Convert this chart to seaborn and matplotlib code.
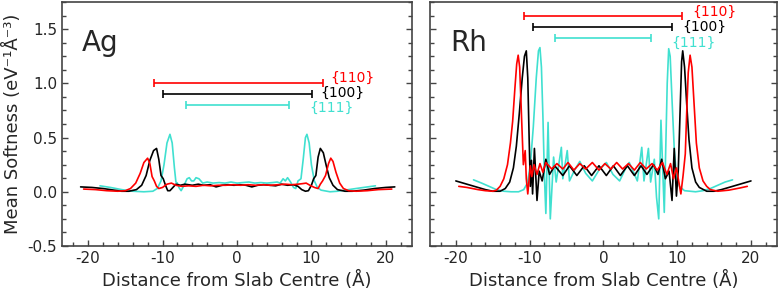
import matplotlib
matplotlib.use('Agg')
import matplotlib.pyplot as plt
from matplotlib.ticker import MultipleLocator
import seaborn as sns

# ---- Ag curves ----
ag100_x = [-21.0, -19.5, -18.0, -16.5, -15.5, -14.5, -13.5, -12.8, -12.2, -11.7, -11.2, -10.8, -10.5, -10.2,
           -9.9, -9.6, -9.3, -9.0, -8.6, -8.2, -7.6, -7.0, -6.0, -5.2, -4.5, -3.6, -2.8, -2.0, -1.2, -0.4,
           0.4, 1.2, 2.0, 2.8, 3.6, 4.4, 5.2, 6.0, 6.8, 7.6, 8.2, 8.7, 9.2, 9.6, 10.0, 10.3, 10.6, 10.9,
           11.2, 11.6, 12.0, 12.4, 12.9, 13.5, 14.5, 15.5, 17.0, 18.5, 20.0, 21.2]
ag100_y = [0.045, 0.04, 0.03, 0.015, 0.005, 0.005, 0.02, 0.06, 0.15, 0.29, 0.38, 0.40, 0.30, 0.15,
           0.12, 0.06, 0.01, 0.01, 0.04, 0.07, 0.06, 0.07, 0.06, 0.07, 0.06, 0.065, 0.045, 0.06, 0.065, 0.06,
           0.065, 0.06, 0.045, 0.06, 0.065, 0.06, 0.055, 0.07, 0.06, 0.065, 0.05, 0.02, 0.005, 0.01, 0.06, 0.12, 0.15, 0.32,
           0.40, 0.36, 0.24, 0.13, 0.06, 0.02, 0.005, 0.005, 0.015, 0.03, 0.04, 0.045]

ag110_x = [-20.6, -19.0, -17.5, -16.0, -15.0, -14.3, -13.6, -13.0, -12.5, -12.0, -11.7, -11.4, -11.1, -10.8,
           -10.5, -10.0, -9.4, -8.8, -8.2, -7.4, -6.5, -5.5, -4.5, -3.5, -2.5, -1.5, -0.5, 0.5, 1.5, 2.5,
           3.5, 4.5, 5.5, 6.5, 7.4, 8.2, 8.8, 9.3, 9.8, 10.4, 10.9, 11.2, 11.5, 11.9, 12.3, 12.6, 12.9,
           13.3, 13.8, 14.3, 15.0, 16.0, 17.5, 19.0, 20.8]
ag110_y = [0.025, 0.02, 0.01, 0.005, 0.01, 0.03, 0.08, 0.17, 0.27, 0.31, 0.26, 0.14, 0.10, 0.05,
           0.03, 0.04, 0.07, 0.08, 0.06, 0.05, 0.055, 0.05, 0.06, 0.055, 0.06, 0.06, 0.065, 0.06, 0.065, 0.06,
           0.065, 0.06, 0.065, 0.07, 0.065, 0.07, 0.075, 0.08, 0.06, 0.04, 0.03, 0.07, 0.10, 0.15, 0.26, 0.31, 0.28,
           0.18, 0.08, 0.03, 0.01, 0.005, 0.01, 0.02, 0.025]

ag111_x = [-18.4, -17.0, -15.5, -14.0, -12.5, -11.3, -10.7, -10.2, -9.8, -9.4, -9.0, -8.7, -8.4, -8.2,
           -8.0, -7.8, -7.5, -7.1, -6.7, -6.4, -6.1, -5.8, -5.5, -5.1, -4.6, -4.0, -3.2, -2.4, -1.6, -0.8,
           0.0, 0.8, 1.6, 2.4, 3.2, 4.0, 4.8, 5.4, 5.8, 6.2, 6.5, 6.8, 7.2, 7.6, 7.9, 8.2, 8.6, 8.9,
           9.2, 9.4, 9.7, 10.0, 10.4, 10.8, 11.3, 12.5, 13.5, 15.0, 16.5, 18.6]
ag111_y = [0.055, 0.04, 0.02, 0.005, 0.0, 0.005, 0.03, 0.10, 0.25, 0.45, 0.53, 0.45, 0.22, 0.09,
           0.08, 0.04, 0.01, 0.06, 0.12, 0.13, 0.10, 0.10, 0.13, 0.12, 0.08, 0.09, 0.08, 0.085, 0.08, 0.09,
           0.08, 0.085, 0.09, 0.08, 0.085, 0.08, 0.085, 0.09, 0.08, 0.12, 0.10, 0.13, 0.09, 0.04, 0.03, 0.10, 0.12, 0.30,
           0.50, 0.53, 0.45, 0.25, 0.10, 0.04, 0.015, 0.0, 0.005, 0.02, 0.035, 0.055]

# ---- Rh curves ----
rh100_x = [-20.0, -19.0, -18.0, -17.0, -16.0, -15.0, -14.0, -13.3, -12.7, -12.2, -11.8, -11.4, -11.0, -10.7,
           -10.45, -10.25, -10.05, -9.9, -9.75, -9.6, -9.35, -9.0, -8.7, -8.3, -7.8, -7.3, -6.6, -5.5, -4.6,
           -3.6, -2.6, -1.6, -0.6, 0.4, 1.35, 2.3, 3.25, 4.2, 5.1, 5.9, 6.8, 7.4, 7.9, 8.4, 8.9, 9.3, 9.6,
           9.9, 10.15, 10.4, 10.6, 10.75, 11.0, 11.3, 11.6, 12.0, 12.5, 13.0, 14.0, 15.0, 16.0, 17.0, 18.0,
           19.0, 20.0]
rh100_y = [0.10, 0.08, 0.06, 0.04, 0.02, 0.005, 0.005, 0.03, 0.09, 0.22, 0.42, 0.72, 1.05, 1.25,
           1.30, 1.05, 0.45, 0.05, 0.29, -0.02, 0.40, -0.08, 0.19, 0.10, 0.30, 0.16, 0.24, 0.15, 0.24,
           0.15, 0.24, 0.15, 0.24, 0.15, 0.24, 0.15, 0.24, 0.15, 0.24, 0.16, 0.25, 0.16, 0.30, 0.12, 0.19, -0.08, 0.40,
           -0.04, 0.20, 0.75, 1.20, 1.30, 1.15, 0.80, 0.48, 0.22, 0.09, 0.04, 0.005, 0.005, 0.02, 0.04, 0.06,
           0.08, 0.10]

rh110_x = [-19.6, -18.5, -17.0, -16.0, -15.0, -14.5, -14.0, -13.5, -13.0, -12.6, -12.3, -12.0, -11.75, -11.55,
           -11.35, -11.1, -10.85, -10.6, -10.45, -10.25, -9.9, -9.7, -9.4, -9.0, -8.6, -8.2, -7.8, -7.0, -6.3,
           -5.5, -4.8, -4.0, -3.2, -2.4, -1.5, -0.6, 0.2, 1.0, 1.8, 2.6, 3.4, 4.2, 5.0, 5.8, 6.6, 7.3, 8.0,
           8.6, 9.1, 9.5, 9.9, 10.2, 10.5, 10.8, 11.1, 11.3, 11.5, 11.75, 12.0, 12.3, 12.6, 13.0, 13.5, 14.0,
           14.5, 15.5, 17.0, 18.5, 19.5]
rh110_y = [0.05, 0.04, 0.02, 0.01, 0.005, 0.015, 0.05, 0.12, 0.25, 0.45, 0.65, 0.95, 1.18, 1.26,
           1.15, 0.70, 0.25, 0.38, 0.12, -0.02, 0.24, 0.14, 0.25, 0.16, 0.26, 0.18, 0.27, 0.21, 0.26,
           0.21, 0.27, 0.20, 0.26, 0.21, 0.27, 0.20, 0.26, 0.21, 0.27, 0.21, 0.26, 0.20, 0.27, 0.21, 0.26, 0.20, 0.27,
           0.16, 0.26, 0.12, 0.22, 0.10, -0.02, 0.15, 0.35, 0.75, 1.10, 1.26, 1.15, 0.80, 0.45, 0.22, 0.10, 0.05,
           0.02, 0.005, 0.015, 0.035, 0.05]

rh111_x = [-17.6, -16.5, -15.5, -14.5, -13.5, -12.5, -11.5, -10.8, -10.3, -9.9, -9.5, -9.1, -8.8, -8.6,
           -8.4, -8.2, -8.0, -7.8, -7.5, -7.2, -6.75, -6.4, -5.7, -5.5, -4.9, -4.6, -3.9, -3.2, -2.4, -1.5,
           -0.6, 0.4, 1.3, 2.2, 2.9, 3.5, 4.1, 4.6, 5.2, 5.5, 6.1, 6.4, 6.9, 7.2, 7.5, 7.8, 8.25, 8.45,
           8.65, 8.85, 9.05, 9.3, 9.6, 9.9, 10.3, 11.0, 12.5, 13.5, 14.5, 15.5, 16.5, 17.5]
rh111_y = [0.11, 0.08, 0.05, 0.02, 0.005, 0.0, 0.0, 0.02, 0.08, 0.25, 0.60, 1.05, 1.30, 1.33,
           1.15, 0.70, 0.15, -0.20, 0.64, -0.25, 0.32, 0.09, 0.41, 0.12, 0.38, 0.10, 0.20, 0.28, 0.17, 0.10,
           0.20, 0.27, 0.16, 0.10, 0.20, 0.27, 0.18, 0.10, 0.41, 0.10, 0.40, 0.09, 0.30, -0.05, -0.25, 0.66, -0.19, 0.40,
           1.00, 1.32, 1.25, 0.85, 0.40, 0.15, 0.05, 0.01, 0.0, 0.01, 0.03, 0.06, 0.09, 0.11]

# ---- thickness brackets (start, end, height) and labels ----
facets = ['{110}', '{100}', '{111}']
colors = ['#ff0000', '#000000', '#40e0d0']
ag_start = [-11.2, -10.0, -6.9]
ag_end = [11.5, 10.1, 7.0]
ag_level = [1.00, 0.90, 0.80]
ag_label_xy = [(12.5, 1.05), (11.2, 0.91), (9.7, 0.77)]
rh_start = [-10.7, -9.6, -6.6]
rh_end = [10.6, 9.3, 6.5]
rh_level = [1.62, 1.52, 1.42]
rh_label_xy = [(12.1, 1.66), (10.7, 1.52), (9.2, 1.37)]

sns.set_style("ticks")
plt.rcParams['font.family'] = ['DejaVu Sans']
plt.rcParams['axes.unicode_minus'] = False

fig = plt.figure(figsize=(7.81, 2.96), dpi=100)
ax1 = fig.add_axes([0.0794, 0.169, 0.448, 0.824])
ax2 = fig.add_axes([0.5506, 0.169, 0.444, 0.824])

panels = [
    (ax1, 'Ag', [(ag110_x, ag110_y), (ag100_x, ag100_y), (ag111_x, ag111_y)],
     ag_start, ag_end, ag_level, ag_label_xy),
    (ax2, 'Rh', [(rh110_x, rh110_y), (rh100_x, rh100_y), (rh111_x, rh111_y)],
     rh_start, rh_end, rh_level, rh_label_xy),
]

for ax, metal, curves, starts, ends, levels, label_xy in panels:
    # cyan drawn first, red last on top
    for i in [2, 1, 0]:
        cx, cy = curves[i]
        sns.lineplot(x=cx, y=cy, color=colors[i], linewidth=1.2, ax=ax, estimator=None, sort=False)
    for i in range(3):
        mid = (starts[i] + ends[i]) / 2
        half = (ends[i] - starts[i]) / 2
        ax.errorbar(mid, levels[i], xerr=half, color=colors[i], capsize=3, elinewidth=1.2, capthick=1.2)
        ax.text(label_xy[i][0], label_xy[i][1], facets[i], color=colors[i], fontsize=10,
                ha='left', va='center')
    ax.text(0.057, 0.80, metal, transform=ax.transAxes, fontsize=20, ha='left', va='baseline')

    ax.set_xlim(-23.5, 23.5)
    ax.set_ylim(-0.5, 1.75)
    ax.xaxis.set_major_locator(MultipleLocator(10))
    ax.xaxis.set_minor_locator(MultipleLocator(2))
    ax.yaxis.set_major_locator(MultipleLocator(0.5))
    ax.yaxis.set_minor_locator(MultipleLocator(0.125))
    ax.tick_params(which='both', direction='in', left=True, right=True, top=False, bottom=True,
                   color='#444444', labelsize=11)
    ax.tick_params(which='major', length=4.5, width=1)
    ax.tick_params(which='minor', length=3, width=1)
    for s in ax.spines.values():
        s.set_visible(True)
        s.set_color('#444444')
        s.set_linewidth(1.2)
    ax.set_xlabel('Distance from Slab Centre (Å)', fontsize=13)
    ax.set_ylabel('')

ax1.set_ylabel('Mean Softness (eV⁻¹Å⁻³)', fontsize=13)
ax2.tick_params(labelleft=False)

fig.savefig('out.png', dpi=100)
